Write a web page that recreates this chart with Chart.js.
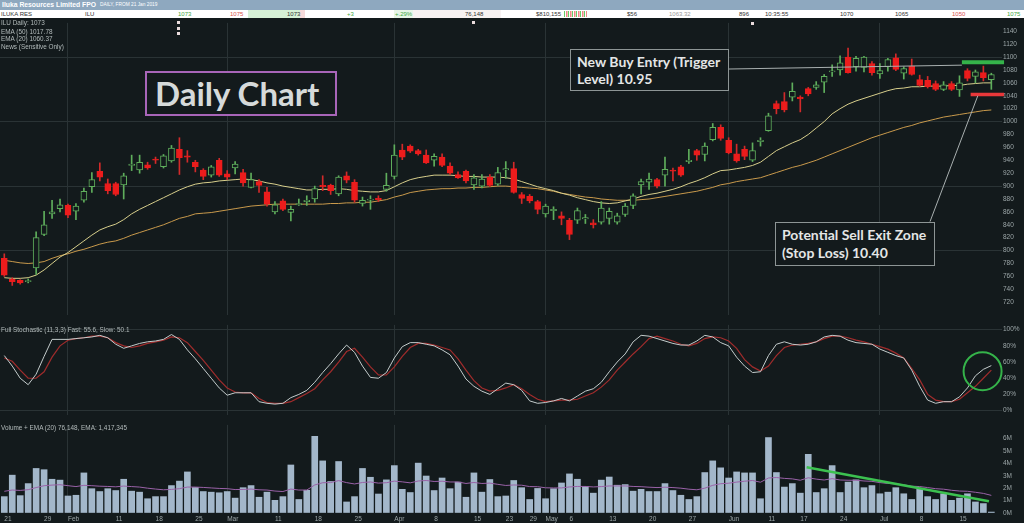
<!DOCTYPE html>
<html>
<head>
<meta charset="utf-8">
<script src="https://cdn.jsdelivr.net/npm/chart.js@4.4.1/dist/chart.umd.min.js"></script>
<style>
  html, body { margin: 0; padding: 0; background: #131a1c; }
  #wrap { position: relative; width: 1024px; height: 523px; overflow: hidden; background: #131a1c; font-family: "Liberation Sans", Arial, sans-serif; }
  canvas { position: absolute; left: 0; }
  .bar1 { position: absolute; left: 0; top: 0; width: 1024px; height: 10px; background: #8ea8bf; color: #fff; }
  .bar2 { position: absolute; left: 0; top: 10px; width: 1024px; height: 8px; background: #fff; color: #333; font-size: 6px; line-height: 8px; }
  .bar2 span, .bar1 span { position: absolute; white-space: nowrap; }
  .g { color: #3fa845; } .r { color: #d9534f; } .m { color: #999; }
  .leg { position: absolute; left: 1px; font-size: 6.4px; line-height: 8px; color: #b3bbbb; white-space: nowrap; }
  .news { position: absolute; width: 3px; height: 3px; background: #eadcdc; }
  .box { position: absolute; box-sizing: border-box; font-family: Lato, "Open Sans", sans-serif; font-weight: bold; color: #e4e6e6; background: #131a1c; white-space: nowrap; }
</style>
</head>
<body>
<div id="wrap">
  <div class="bar1">
    <span style="left:2px;top:0;font-size:6.8px;line-height:10px;font-weight:bold;">Iluka Resources Limited FPO</span>
    <span style="left:100px;top:0;font-size:4.8px;line-height:10px;">DAILY, FROM 21 Jan 2019</span>
  </div>
  <div class="bar2">
    <span style="left:1px;">ILUKA RES</span>
    <span style="left:85px;">ILU</span>
    <span class="g" style="left:178px;">1073</span>
    <span class="r" style="left:230px;">1075</span>
    <span style="left:248px;width:52px;height:8px;background:#d6f0d6;"></span>
    <span style="left:300px;width:5px;height:8px;background:#f6dada;"></span>
    <span style="left:287px;">1073</span>
    <span class="g" style="left:347px;">+3</span>
    <span style="left:394px;width:19px;height:8px;background:#e8f6e8;"></span>
    <span class="g" style="left:395px;">+.29%</span>
    <span style="left:413px;width:88px;height:8px;background:#f7f2f2;"></span>
    <span style="left:465px;">76,148</span>
    <span style="left:536px;">$810,155</span>
    <span style="left:564px;top:1px;width:23px;height:6px;background:repeating-linear-gradient(90deg,#6c6 0 1px,#fff 1px 2px,#e88 2px 3px,#fbb 3px 4px);"></span>
    <span style="left:627px;">$56</span>
    <span class="m" style="left:669px;">1063.32</span>
    <span style="left:739px;">896</span>
    <span style="left:765px;">10:35:55</span>
    <span style="left:840px;">1070</span>
    <span style="left:895px;">1065</span>
    <span class="r" style="left:952px;">1050</span>
    <span class="g" style="left:1007px;">1075</span>
  </div>

  <canvas id="priceChart" width="1024" height="302" style="top:18px"></canvas>
  <canvas id="stochChart" width="1024" height="100" style="top:320px"></canvas>
  <canvas id="volChart" width="1024" height="103" style="top:420px"></canvas>

  <div class="leg" style="top:19px">ILU Daily: 1073</div>
  <div class="leg" style="top:27.5px">EMA (50) 1017.78</div>
  <div class="leg" style="top:35px">EMA (20) 1060.37</div>
  <div class="leg" style="top:42.5px">News (Sensitive Only)</div>
  <div class="news" style="left:177px;top:21px"></div>
  <div class="news" style="left:177px;top:27px"></div>
  <div class="news" style="left:177px;top:32px"></div>
  <div class="news" style="left:472px;top:21px"></div>
  <div class="news" style="left:751px;top:22px"></div>
  <div class="leg" style="top:326px">Full Stochastic (11,3,3) Fast: 55.6, Slow: 50.1</div>
  <div class="leg" style="top:424px">Volume + EMA (20) 76,148, EMA: 1,417,345</div>

  <div class="box" style="left:145px;top:71px;width:192px;height:45px;border:2px solid #a865b8;font-size:33px;line-height:40px;padding-left:8px;color:#d6dada;">Daily Chart</div>
  <div class="box" style="left:570px;top:49px;width:159px;height:42px;border:1px solid #8d9595;font-size:14px;line-height:17px;padding:3px 0 0 6px;">New Buy Entry (Trigger<br>Level) 10.95</div>
  <div class="box" style="left:775px;top:222px;width:160px;height:44px;border:1px solid #8d9595;font-size:14px;line-height:18px;padding:3px 0 0 6px;">Potential Sell Exit Zone<br>(Stop Loss) 10.40</div>
</div>

<script>
// ---- data (ASX: ILU, daily, 21 Jan - 19 Jul 2019, cents) ----
const opens = [788,756,754,752,773,825,857,865,870,861,878,899,923,904,904,902,932,925,933,942,930,939,957,947,937,925,917,940,919,928,921,898,907,891,860,877,859,871,876,880,901,901,888,916,906,873,878,881,895,915,956,962,955,948,940,945,931,918,923,902,900,914,903,925,927,887,884,876,857,862,854,847,847,849,843,844,850,844,856,870,902,906,910,917,925,930,938,955,949,972,991,971,950,957,940,969,986,1028,1031,1038,1038,1051,1053,1061,1077,1080,1100,1085,1084,1090,1074,1085,1099,1075,1086,1065,1064,1059,1050,1059,1049,1079,1070,1076,1065];
const highs = [795,758,755,756,829,861,878,880,872,873,897,921,936,911,906,920,948,948,937,945,949,963,975,955,940,927,932,943,924,938,926,920,910,898,876,880,869,880,885,900,916,903,916,922,910,883,885,885,920,964,965,964,957,956,950,950,936,922,925,918,918,918,929,938,937,890,887,878,872,868,860,850,866,856,848,876,866,858,873,888,911,920,912,945,928,932,957,957,967,997,995,975,965,962,967,975,1013,1032,1045,1060,1040,1053,1062,1073,1088,1102,1114,1101,1101,1093,1090,1098,1105,1085,1097,1072,1070,1063,1062,1062,1071,1082,1080,1086,1075];
const lows = [760,746,748,750,763,823,850,860,851,848,875,890,908,888,885,880,924,920,926,935,928,937,918,937,922,910,914,915,910,919,900,897,890,869,857,862,846,870,870,875,893,887,885,905,875,869,864,876,892,911,941,952,948,935,931,930,918,912,905,895,897,899,901,912,889,873,874,857,852,848,840,817,842,842,835,841,841,841,853,865,888,895,897,900,908,915,935,940,939,970,971,950,937,941,938,962,985,1012,1015,1032,1015,1040,1050,1045,1070,1072,1075,1078,1077,1072,1067,1078,1079,1066,1072,1055,1052,1048,1048,1048,1039,1063,1060,1063,1050];
const closes = [762,752,750,753,820,840,860,871,855,869,892,910,914,893,887,916,934,937,928,940,947,959,944,945,930,915,930,917,914,934,905,910,901,872,871,864,864,873,878,896,899,893,914,909,878,878,880,879,901,948,945,954,950,936,946,932,920,913,908,913,911,901,921,927,890,881,877,864,869,864,850,825,862,851,840,866,861,854,869,885,907,911,900,926,923,917,940,948,962,991,974,952,939,946,955,971,1009,1020,1018,1047,1035,1043,1057,1070,1078,1091,1076,1098,1100,1076,1079,1096,1081,1082,1073,1056,1054,1050,1057,1050,1060,1067,1077,1068,1073];
const ema20 = [758,757,757,758,762,770,780,790,797,806,815,824,832,837,841,848,857,864,870,876,882,888,894,899,903,905,906,908,909,910,911,910,908,905,903,900,898,896,894,894,895,895,896,895,893,892,891,891,893,899,905,910,913,915,917,917,917,916,915,915,914,914,914,913,911,907,903,899,896,893,889,886,882,879,876,874,873,874,877,880,884,887,889,892,895,899,904,908,913,919,924,925,927,929,932,937,946,955,961,967,972,980,990,1000,1012,1020,1027,1032,1036,1040,1044,1048,1051,1052,1054,1054,1055,1055,1055,1056,1056,1058,1059,1060,1060];
const ema50 = [785,783,781,780,781,783,788,792,795,799,802,806,810,813,815,819,824,828,832,836,840,845,850,853,857,858,859,861,863,865,867,869,870,871,872,872,872,872,872,872,872,873,873,874,874,875,875,877,879,883,886,890,892,894,895,896,896,897,897,898,898,899,900,900,899,898,897,896,894,892,889,887,885,883,882,880,879,878,878,878,879,880,882,884,886,888,890,892,895,898,902,904,907,909,911,913,917,921,925,929,932,936,940,945,950,955,960,965,970,975,979,983,987,991,994,998,1001,1004,1007,1009,1011,1013,1015,1017,1018];
const stochFast = [68,55,40,32,45,67,88,88,88,89,90,91,93,90,82,77,80,83,85,86,88,94,88,75,64,52,40,28,19,22,22,22,11,9,8,9,16,20,25,35,47,58,70,81,72,55,41,40,47,65,79,84,84,82,80,75,69,55,39,30,24,20,27,34,32,25,12,9,10,12,15,12,18,24,27,35,48,60,70,85,93,92,89,86,83,81,81,86,93,91,84,80,66,55,47,48,68,82,85,82,81,82,85,91,93,92,87,84,83,82,76,72,68,65,50,30,13,9,11,11,17,28,43,51,55.6];
const stochSlow = [65,61,50,40,40,48,66,80,87,89,90,92,92,90,84,80,78,80,83,85,87,91,90,84,73,62,50,38,28,23,22,22,15,10,9,9,11,16,21,27,38,48,60,73,77,66,54,44,44,54,67,78,83,83,81,78,75,64,50,37,28,24,25,28,32,27,20,14,11,12,13,13,14,18,22,29,38,50,60,70,79,89,92,89,86,82,80,83,89,91,90,86,77,63,54,49,55,68,78,81,82,83,85,89,92,92,90,87,85,82,79,76,71,65,52,38,20,13,11,11,14,22,30,40,50.1];
// volume in millions of shares
const volumes = [1.32,3.05,1.4,2.37,3.59,3.49,2.72,2.65,1.37,1.43,3.23,1.96,1.73,1.96,1.81,2.72,1.76,1.68,1.15,1.32,1.32,2.21,2.57,3.31,2.06,1.73,1.68,1.63,1.73,1.2,2.04,2.21,1.27,1.68,1.02,1.32,3.87,1.09,1.83,6.18,4.2,2.54,4.15,0.89,1.32,3.59,2.88,1.53,2.67,3.82,1.91,1.65,4.02,2.98,1.81,2.82,1.96,2.49,1.27,3.23,1.68,2.7,1.32,1.37,2.62,2.04,1.09,1.98,1.15,1.96,2.42,3.15,2.72,2.14,1.6,2.65,2.9,2.24,2.29,1.76,1.91,1.73,1.73,2.37,1.81,1.43,1.09,1.32,3.26,4.2,3.64,2.82,3.31,3.23,3.23,1.15,6.08,3.26,2.09,2.37,1.6,4.73,1.65,1.96,3.82,1.65,2.49,2.67,2.04,2.21,1.55,1.68,2.04,1.55,1.09,1.91,1.32,1.09,1.55,1.02,1.2,1.55,0.89,0.76,0.076];
const volEma = [1.75,1.85,1.82,1.88,2.05,2.2,2.25,2.28,2.2,2.13,2.23,2.2,2.16,2.14,2.11,2.17,2.13,2.09,2.0,1.93,1.87,1.9,1.96,2.09,2.09,2.06,2.02,1.98,1.96,1.89,1.9,1.93,1.87,1.85,1.77,1.73,1.93,1.85,1.85,2.26,2.44,2.45,2.61,2.45,2.34,2.46,2.5,2.41,2.44,2.57,2.51,2.43,2.58,2.62,2.54,2.56,2.5,2.5,2.38,2.46,2.38,2.41,2.31,2.22,2.26,2.24,2.13,2.12,2.03,2.02,2.02,2.1,2.14,2.14,2.1,2.13,2.18,2.18,2.18,2.14,2.12,2.08,2.05,2.08,2.05,2.0,1.92,1.87,2.0,2.23,2.36,2.4,2.49,2.56,2.62,2.48,2.82,2.86,2.79,2.75,2.64,2.84,2.73,2.66,2.77,2.66,2.64,2.64,2.58,2.55,2.45,2.38,2.35,2.27,2.16,2.13,2.05,1.96,1.92,1.83,1.77,1.75,1.67,1.58,1.42];

// x-axis tick labels (bar index -> text)
const tickIdx  = [0, 5, 8, 14, 19, 24, 28, 34, 39, 44, 49, 54, 59, 63, 66, 68, 71, 76, 81, 86, 91, 96, 100, 105, 110, 115, 120];
const tickText = ['21','29','Feb','11','18','25','Mar','11','18','25','Apr','8','15','23','29','May','6','13','20','27','Jun','11','17','24','Jul','8','15'];
const monthIdx = [8, 28, 49, 68, 91, 110];
const priceTicks = [720,740,760,780,800,820,840,860,880,900,920,940,960,980,1000,1020,1040,1060,1080,1100,1120,1140];
const stochTicks = [0, 20, 40, 60, 80, 100];
const volTicks = [0, 1, 2, 3, 4, 5, 6];

// drawn-on notes
const buyLevel = 1092;
const stopLevel = 1042;
const triggerLink = [{ x: 91.0, y: 1081.5 }, { x: 120.3, y: 1087.5 }];
const buyZone = [{ x: 120.3, y: buyLevel }, { x: 125.6, y: buyLevel }];
const stopZone = [{ x: 121.4, y: stopLevel }, { x: 125.6, y: stopLevel }];
const sellLink = [{ x: 122.3, y: 1040 }, { x: 116.3, y: 845 }];
const volTrend = [{ x: 100.8, y: 3.69 }, { x: 123.7, y: 0.94 }];
const stochMark = { x: 122.9, y: 48.7 };

// ---- styling ----
const BG = '#131a1c';
const GRID = '#2a3335';
const AXIS = '#9ca6a8';
const UP = '#5fae5c';
const DOWN = '#ec1c1c';
const FONT = { family: 'Liberation Sans', size: 6.5 };
const AXW = 22;
const xMin = -0.54;
const xMax = 125.34;
const clear = 'rgba(0,0,0,0)';

const isUp = i => closes[i] >= opens[i];
const pts = arr => arr.map((v, i) => ({ x: i, y: v }));

function xScale(showLabels) {
  return {
    type: 'linear',
    min: xMin,
    max: xMax,
    offset: false,
    afterBuildTicks: s => { s.ticks = (showLabels ? tickIdx : monthIdx).map(v => ({ value: v })); },
    grid: {
      offset: false,
      drawTicks: false,
      color: ctx => (ctx.tick && monthIdx.includes(ctx.tick.value)) ? GRID : clear
    },
    border: { display: false },
    ticks: {
      display: showLabels,
      autoSkip: false,
      maxRotation: 0,
      align: 'start',
      padding: 2,
      color: AXIS,
      font: FONT,
      callback: v => tickText[tickIdx.indexOf(v)]
    },
    afterFit: s => { s.height = showLabels ? 10 : 0; }
  };
}

function yScale(min, max, ticks, gridAt, fmt) {
  return {
    position: 'right',
    min: min,
    max: max,
    afterBuildTicks: s => { s.ticks = ticks.map(v => ({ value: v })); },
    grid: { drawTicks: false, color: ctx => (ctx.tick && gridAt(ctx.tick.value)) ? GRID : clear },
    border: { display: false },
    ticks: { color: AXIS, font: FONT, padding: 1, callback: fmt },
    afterFit: s => { s.width = AXW; }
  };
}

function noteLine(data, color, width) {
  return { type: 'line', data: data, borderColor: color, borderWidth: width, pointRadius: 0, order: -1, clip: false };
}

const common = {
  responsive: false,
  animation: false,
  devicePixelRatio: 1,
  events: [],
  layout: { padding: 0 },
  plugins: { legend: { display: false }, tooltip: { enabled: false } }
};

document.addEventListener('DOMContentLoaded', () => {
  // Price panel: candles + EMAs
  new Chart(document.getElementById('priceChart').getContext('2d'), {
    type: 'bar',
    data: {
      datasets: [
        {
          label: 'body',
          data: closes.map((c, i) => ({ x: i, y: [opens[i], c] })),
          backgroundColor: ctx => isUp(ctx.dataIndex) ? BG : DOWN,
          borderColor: ctx => isUp(ctx.dataIndex) ? UP : DOWN,
          borderWidth: 1,
          borderSkipped: false,
          barThickness: 6,
          minBarLength: 1,
          grouped: false,
          order: 1
        },
        {
          label: 'wick',
          data: highs.map((h, i) => ({ x: i, y: [lows[i], h] })),
          backgroundColor: ctx => isUp(ctx.dataIndex) ? UP : '#d22a2a',
          borderWidth: 0,
          barThickness: 1,
          grouped: false,
          order: 2
        },
        { type: 'line', label: 'EMA (20)', data: pts(ema20), borderColor: '#d8cf8c', borderWidth: 1, pointRadius: 0, order: 3 },
        { type: 'line', label: 'EMA (50)', data: pts(ema50), borderColor: '#c99a4c', borderWidth: 1, pointRadius: 0, order: 3 },
        noteLine(triggerLink, '#a9b0b0', 1),
        noteLine(sellLink, '#a9b0b0', 1),
        noteLine(buyZone, '#35b34a', 4),
        noteLine(stopZone, '#e8383a', 3.5)
      ]
    },
    options: Object.assign({}, common, {
      scales: {
        x: xScale(false),
        y: yScale(700, 1153, priceTicks, v => v % 100 === 0, v => v)
      }
    })
  });

  // Stochastic panel
  const circlePlugin = {
    id: 'circleMark',
    afterDatasetsDraw(chart) {
      const c = chart.ctx;
      const px = chart.scales.x.getPixelForValue(stochMark.x);
      const py = chart.scales.y.getPixelForValue(stochMark.y);
      c.save();
      c.strokeStyle = '#35b34a';
      c.lineWidth = 2;
      c.beginPath();
      c.arc(px, py, 19, 0, Math.PI * 2);
      c.stroke();
      c.restore();
    }
  };
  new Chart(document.getElementById('stochChart').getContext('2d'), {
    type: 'line',
    data: {
      datasets: [
        { label: 'Slow', data: pts(stochSlow), borderColor: '#a02c2c', borderWidth: 1.2, pointRadius: 0, order: 2 },
        { label: 'Fast', data: pts(stochFast), borderColor: '#c4cccc', borderWidth: 1, pointRadius: 0, order: 1 }
      ]
    },
    options: Object.assign({}, common, {
      scales: {
        x: xScale(false),
        y: yScale(-5.57, 105.9, stochTicks, v => v === 0 || v === 100, v => v + '%')
      }
    }),
    plugins: [circlePlugin]
  });

  // Volume panel
  new Chart(document.getElementById('volChart').getContext('2d'), {
    type: 'bar',
    data: {
      datasets: [
        { label: 'Volume', data: pts(volumes), backgroundColor: '#a3b7ca', barThickness: 6, grouped: false, order: 2 },
        { type: 'line', label: 'EMA (20)', data: pts(volEma), borderColor: '#9a62a8', borderWidth: 1, pointRadius: 0, order: 1 },
        noteLine(volTrend, '#3cc150', 2.5)
      ]
    },
    options: Object.assign({}, common, {
      scales: {
        x: xScale(true),
        y: yScale(0, 7.1, volTicks, () => false, v => v + 'M')
      }
    })
  });
});
</script>
</body>
</html>
